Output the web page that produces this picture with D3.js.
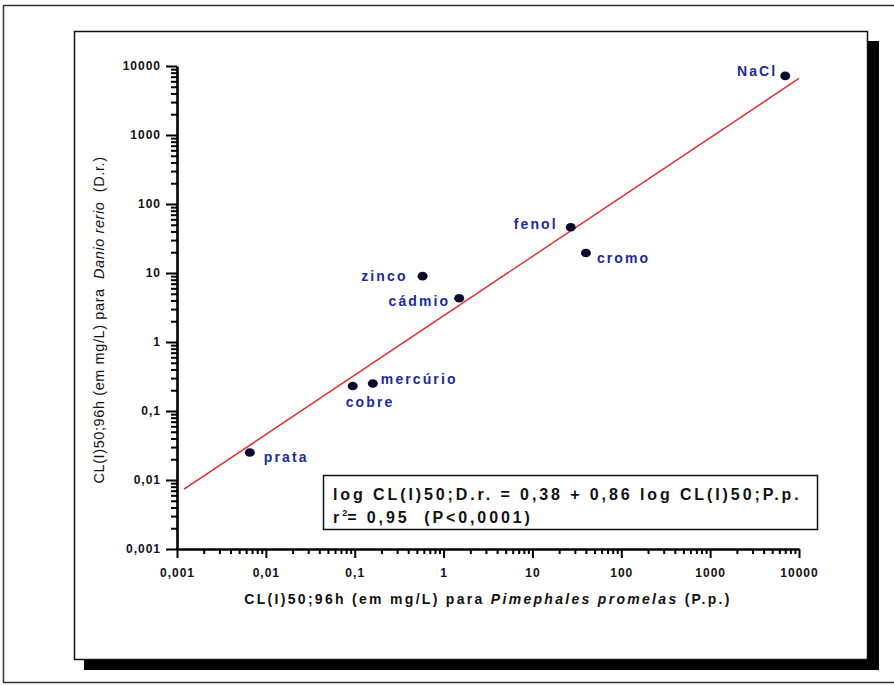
<!DOCTYPE html>
<html>
<head>
<meta charset="utf-8">
<script src="https://cdn.jsdelivr.net/npm/d3@7"></script>
<style>
  html, body { margin: 0; padding: 0; background: #ffffff; }
  svg { display: block; font-family: "Liberation Sans", Arial, sans-serif; }
  text { white-space: pre; }
</style>
</head>
<body>
<svg id="chart" width="894" height="685"></svg>
<script>
// LC50 (96 h, mg/L) of each toxicant for the two fish species
const substances = ["NaCl", "fenol", "cromo", "zinco", "cádmio", "mercúrio", "cobre", "prata"];
const pimephalesLC50 = [7000, 27, 40, 0.58, 1.5, 0.16, 0.095, 0.0066];
const danioLC50      = [7200, 46, 19.5, 9, 4.3, 0.25, 0.23, 0.025];

// Decade ticks shared by both log axes
const decadeTicks  = [0.001, 0.01, 0.1, 1, 10, 100, 1000, 10000];
const decadeLabels = ["0,001", "0,01", "0,1", "1", "10", "100", "1000", "10000"];

// Fitted regression: log D.r. = 0.38 + 0.86 log P.p.
const fitIntercept = 0.38;
const fitSlope = 0.86;
const fitRange = [0.0012, 10000];
const equationText = "log CL(I)50;D.r. = 0,38 + 0,86 log CL(I)50;P.p.";
const r2Text = ["r", "2", "= 0,95  (P<0,0001)"];

// Label placement around each dot: [dx, dy, anchor]
const labelPlacement = [
  [-8, -5, "end"], [-13, -3, "end"], [11, 5, "start"], [-15, 0, "end"],
  [-9, 3, "end"], [8, -4, "start"], [-7, 16, "start"], [14, 5, "start"]
];

const svg = d3.select("#chart");

// Outer page frame
svg.append("rect").attr("x", 3.5).attr("y", 5.5).attr("width", 900).attr("height", 677)
  .attr("fill", "#fff").attr("stroke", "#333").attr("stroke-width", 1.5);

// Chart panel with drop shadow
svg.append("rect").attr("x", 84).attr("y", 41).attr("width", 795).attr("height", 629)
  .attr("fill", "#000");
svg.append("rect").attr("x", 74.5).attr("y", 31.5).attr("width", 793).attr("height", 628)
  .attr("fill", "#fff").attr("stroke", "#111").attr("stroke-width", 1.5);

const x = d3.scaleLog().domain([0.001, 10000]).range([177, 799]);
const y = d3.scaleLog().domain([0.001, 10000]).range([549, 66]);

// Minor ticks 2..9 within each decade
const minorTicks = [];
decadeTicks.slice(0, -1).forEach(d => { for (let k = 2; k <= 9; k++) minorTicks.push(d * k); });

const fmt = d => decadeLabels[decadeTicks.indexOf(d)];

// X axis
const gx = svg.append("g").attr("transform", `translate(0,549)`);
gx.call(d3.axisBottom(x).tickValues(decadeTicks).tickFormat(fmt).tickSizeInner(9).tickSizeOuter(0).tickPadding(10));
const gxm = svg.append("g").attr("transform", `translate(0,549)`);
gxm.call(d3.axisBottom(x).tickValues(minorTicks).tickFormat("").tickSizeInner(5).tickSizeOuter(0));
gxm.select(".domain").remove();

// Y axis
const gy = svg.append("g").attr("transform", `translate(177,0)`);
gy.call(d3.axisLeft(y).tickValues(decadeTicks).tickFormat(fmt).tickSizeInner(11).tickSizeOuter(0).tickPadding(5));
const gym = svg.append("g").attr("transform", `translate(177,0)`);
gym.call(d3.axisLeft(y).tickValues(minorTicks).tickFormat("").tickSizeInner(6).tickSizeOuter(0));
gym.select(".domain").remove();

svg.selectAll(".domain").attr("stroke", "#000").attr("stroke-width", 2.6);
svg.selectAll(".tick line").attr("stroke", "#000").attr("stroke-width", 2);
svg.selectAll(".tick text")
  .attr("fill", "#111").attr("font-size", 12).attr("font-weight", "bold")
  .attr("letter-spacing", 1).attr("font-family", "Liberation Sans, Arial, sans-serif");

// Axis titles
const xt = svg.append("text").attr("x", 488).attr("y", 604).attr("text-anchor", "middle")
  .attr("font-size", 14).attr("font-weight", "bold").attr("letter-spacing", 2.3).attr("fill", "#111");
xt.append("tspan").text("CL(I)50;96h (em mg/L) para ");
xt.append("tspan").attr("font-style", "italic").text("Pimephales promelas");
xt.append("tspan").text(" (P.p.)");

const yt = svg.append("text").attr("transform", "translate(104,320) rotate(-90)")
  .attr("text-anchor", "middle").attr("font-size", 14.5).attr("letter-spacing", 0.6).attr("fill", "#111");
yt.append("tspan").text("CL(I)50;96h (em mg/L) para  ");
yt.append("tspan").attr("font-style", "italic").text("Danio rerio");
yt.append("tspan").text("  (D.r.)");

// Regression line
const fit = v => Math.pow(10, fitIntercept + fitSlope * Math.log10(v));
svg.append("line")
  .attr("x1", x(fitRange[0])).attr("y1", y(fit(fitRange[0])))
  .attr("x2", x(fitRange[1])).attr("y2", y(fit(fitRange[1])))
  .attr("stroke", "#e02828").attr("stroke-width", 1.4);

// Points and labels
const pts = substances.map((s, i) => ({ name: s, px: pimephalesLC50[i], dr: danioLC50[i], lab: labelPlacement[i] }));
svg.selectAll("ellipse.pt").data(pts).join("ellipse").attr("class", "pt")
  .attr("cx", d => x(d.px)).attr("cy", d => y(d.dr)).attr("rx", 5).attr("ry", 4.3)
  .attr("fill", "#0b0b2e");
svg.selectAll("text.lab").data(pts).join("text").attr("class", "lab")
  .attr("x", d => x(d.px) + d.lab[0]).attr("y", d => y(d.dr) + d.lab[1])
  .attr("dy", "0.35em").attr("text-anchor", d => d.lab[2])
  .attr("font-size", 14).attr("font-weight", "bold").attr("letter-spacing", 2.1)
  .attr("fill", "#1c2a9c").text(d => d.name);

// Equation box
svg.append("rect").attr("x", 323.5).attr("y", 475.5).attr("width", 494).attr("height", 54)
  .attr("fill", "#fff").attr("stroke", "#111").attr("stroke-width", 1.5);
svg.append("text").attr("x", 333).attr("y", 500).attr("font-size", 16).attr("font-weight", "bold")
  .attr("letter-spacing", 2.9).attr("fill", "#111").text(equationText);
const r2 = svg.append("text").attr("x", 333).attr("y", 523).attr("font-size", 16).attr("font-weight", "bold")
  .attr("letter-spacing", 2.9).attr("fill", "#111");
r2.append("tspan").text(r2Text[0]);
r2.append("tspan").attr("font-size", 9).attr("dy", -7).attr("letter-spacing", 0).text(r2Text[1]);
r2.append("tspan").attr("dy", 7).text(r2Text[2]);
</script>
</body>
</html>
